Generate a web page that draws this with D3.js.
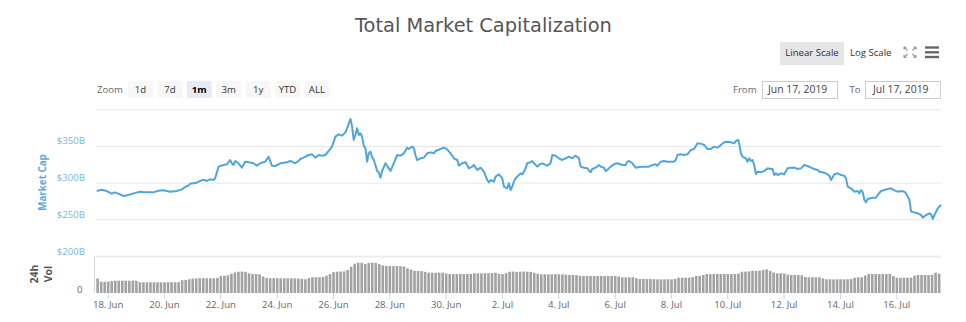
<!DOCTYPE html>
<html><head><meta charset="utf-8">
<script src="https://cdn.jsdelivr.net/npm/d3@7"></script>
<style>html,body{margin:0;padding:0;background:#fff;}svg{display:block;font-family:"Open Sans",sans-serif;}</style>
</head><body><svg id="c" width="966" height="322"></svg>
<script>
// ---------- data ----------
const title = "Total Market Capitalization";
const zoomButtons = ["1d","7d","1m","3m","1y","YTD","ALL"];
const selectedZoom = "1m";
const scaleButtons = ["Linear Scale","Log Scale"];
const fromText = "Jun 17, 2019";
const toText = "Jul 17, 2019";
const capTickValues = [200,250,300,350];
const gridTickValues = [200,250,300,350,400];
const capAxisTitle = "Market Cap";
const volAxisTitle = ["24h","Vol"];
const baseDate = Date.UTC(2019,5,18);           // 18 Jun 2019 00:00 UTC
const viewFromHour = -9.9, viewToHour = 710.1;  // visible range, hours from baseDate
// market cap, hours from baseDate / value in $B
const capHours = [-9.3,-5.1,-0.8,3.5,6.3,10.6,13.4,17.7,22.0,27.6,31.9,39.0,43.3,47.6,53.2,58.9,63.2,66.0,68.9,70.3,76.0,78.8,81.7,84.5,87.4,90.2,91.6,94.5,98.7,101.6,104.4,105.8,107.3,108.7,111.5,114.4,117.2,120.1,124.3,127.2,130.0,134.3,137.1,140.0,142.8,147.1,152.8,155.6,158.5,159.9,162.7,
164.2,167.0,171.3,174.2,177.0,179.8,182.7,185.5,188.4,191.2,194.1,196.9,199.8,202.6,204.0,206.9,208.3,209.7,211.1,212.5,214.0,215.4,216.8,218.2,219.7,221.1,222.5,223.9,225.3,226.8,228.2,229.6,231.0,232.5,233.9,236.7,239.6,241.0,243.8,246.7,249.5,252.4,255.2,256.6,259.5,260.9,262.3,263.7,266.6,269.4,272.3,275.1,278.0,279.4,283.6,286.5,289.3,292.2,295.0,297.9,299.3,302.1,305.0,307.8,310.7,312.1,314.9,317.8,320.6,323.5,324.9,326.3,329.1,330.6,333.4,336.3,337.7,340.5,341.9,343.4,
344.7,346.1,347.6,349.0,351.8,353.3,354.7,356.1,357.5,360.4,361.8,363.2,366.1,367.5,370.3,373.2,374.6,377.4,378.9,381.7,384.5,387.4,390.2,393.1,395.9,398.8,401.6,403.0,405.9,408.7,411.6,413.0,415.8,418.7,420.1,422.9,424.4,425.8,428.6,431.5,434.3,438.6,441.4,442.8,444.3,447.1,450.0,452.8,457.1,461.3,464.2,467.0,468.4,471.3,474.1,477.0,482.7,484.1,485.5,488.3,491.2,494.0,496.9,499.7,502.6,505.4,508.3,511.1,513.9,516.8,519.6,
522.5,525.3,528.2,531.0,533.9,535.3,537.3,538.1,539.6,541.0,543.8,545.3,546.7,548.1,549.5,550.9,552.4,553.8,556.6,559.5,562.3,565.2,566.6,568.0,569.4,570.9,573.7,576.5,579.4,582.2,585.1,587.9,590.8,593.6,596.4,599.3,602.1,605.0,606.4,609.2,612.1,614.9,616.4,619.2,622.0,624.9,627.7,629.2,630.6,633.4,636.3,639.1,640.5,642.0,643.4,644.8,646.2,647.6,651.9,654.7,656.2,659.0,661.9,664.7,667.5,670.4,673.2,676.1,678.9,680.3,681.8,683.2,684.6,687.4,690.3,693.1,694.6,697.4,700.3,701.7,703.1,704.5,707.4,710.2];
const capValues = [288.6,290.4,288.6,285.0,286.8,284.1,281.8,283.2,285.4,287.7,286.8,286.8,289.1,289.5,287.7,288.6,290.9,294.1,295.9,298.6,300.0,302.3,304.1,302.3,304.5,303.6,305.9,321.8,324.1,325.0,330.9,326.4,324.1,329.5,326.4,320.4,328.6,327.7,326.4,323.2,326.4,328.6,335.4,323.2,322.7,326.4,327.7,329.5,327.7,326.4,329.5,
332.3,334.1,337.7,338.6,334.1,337.7,336.8,337.7,343.2,349.1,362.7,365.9,364.1,368.6,374.1,386.8,376.4,358.2,365.0,374.1,365.0,367.3,362.7,350.4,346.8,328.6,340.0,342.3,335.4,330.9,324.1,315.9,314.1,306.8,315.9,326.4,319.5,315.9,326.4,337.7,336.8,340.0,347.7,345.9,349.1,346.8,337.7,330.9,333.2,334.1,340.0,341.3,340.0,343.2,345.9,347.7,345.4,340.0,333.2,330.9,323.2,326.4,327.7,319.5,321.8,324.1,317.3,320.4,315.0,303.6,300.4,303.6,301.4,308.2,311.4,305.9,294.5,292.3,299.1,290.0,
294.5,301.4,305.9,308.2,312.7,311.4,315.0,319.5,326.4,327.7,329.5,326.4,321.8,324.1,326.4,324.1,323.2,326.4,337.7,336.8,333.2,330.9,333.2,335.4,333.2,336.8,333.2,321.8,320.4,319.5,314.1,318.6,320.4,324.1,321.8,320.4,315.9,317.3,321.8,325.0,326.4,324.1,324.1,328.6,329.5,326.4,320.4,321.3,321.8,321.8,324.1,325.0,323.2,328.6,329.5,328.6,328.6,330.9,337.7,338.6,337.7,338.6,344.5,345.9,353.6,353.2,351.4,345.9,345.9,349.1,347.7,
351.4,355.0,355.9,355.0,353.6,356.8,358.2,353.6,340.0,335.4,333.2,328.6,333.2,329.5,330.9,324.1,311.4,315.0,314.1,315.9,319.5,318.6,318.6,310.4,312.7,310.4,312.7,311.4,319.5,320.4,320.4,318.6,319.5,324.1,322.7,320.4,318.6,317.3,315.0,314.1,312.7,309.5,303.6,311.4,312.7,310.4,309.5,305.9,294.5,292.3,287.7,288.6,285.4,290.0,286.8,276.4,273.2,277.7,279.5,279.5,283.2,288.6,290.0,291.4,292.3,289.5,287.7,288.6,287.7,285.4,280.9,276.4,260.5,259.5,258.2,255.9,252.3,255.9,258.2,256.8,250.5,255.9,265.0,269.5];
// 24h volume ($B), one bar every 3 hours starting at volStartHour
const volStartHour = -8.5, volStepHours = 3;
const volume = [47.5,36.5,36.5,36.8,38.5,39.8,40.0,39.9,40.1,39.8,40.2,39.5,
35.2,34.8,34.5,34.7,34.9,34.6,34.5,34.8,35.0,34.7,34.9,35.3,
41.5,42.2,44.5,46.8,47.5,47.9,48.2,47.8,48.0,47.6,49.0,54.8,
56.0,57.2,62.5,66.8,69.1,69.5,68.6,64.0,61.6,61.4,60.8,53.5,
48.6,47.7,47.7,47.9,47.5,47.8,47.6,47.7,47.4,47.0,45.5,44.4,
48.5,50.9,51.2,51.0,51.5,56.0,61.5,67.5,69.1,69.5,70.2,74.5,
85.3,95.0,98.3,97.8,94.1,97.5,98.3,98.0,93.5,89.5,88.0,87.6,
87.2,87.6,87.0,86.0,80.1,76.0,72.0,71.4,71.0,68.5,65.8,66.0,
65.6,65.8,66.2,63.5,61.6,61.4,61.8,61.6,61.3,61.7,62.0,63.9,
64.2,63.8,64.0,63.9,64.5,65.8,62.5,61.6,64.5,69.1,69.4,68.8,
69.1,69.6,69.0,68.5,65.8,62.5,60.6,60.8,60.4,60.6,60.9,60.5,
60.6,59.5,58.4,58.6,58.0,56.0,55.1,55.3,55.1,55.4,55.0,55.2,
55.1,54.8,55.0,55.1,53.5,51.0,50.9,50.6,50.9,48.0,45.4,45.6,
45.2,45.4,44.8,44.4,44.2,44.5,44.4,44.1,45.5,49.6,49.8,49.5,
49.6,51.5,55.1,55.5,58.5,61.6,61.4,61.8,61.6,61.5,61.9,61.6,
61.2,61.6,63.0,69.1,69.4,70.0,72.3,72.0,72.6,75.0,76.9,72.0,
66.5,63.9,64.2,63.5,59.5,58.4,58.6,58.2,57.5,52.0,50.9,51.2,
50.8,50.9,47.5,44.4,44.6,44.2,44.4,44.5,44.3,44.4,45.0,49.5,
50.9,51.2,56.5,61.6,61.8,61.4,61.6,61.9,61.5,61.6,55.0,49.6,
49.4,49.8,49.6,50.0,56.0,58.4,58.6,58.2,58.6,59.5,65.8,62.5];
const volMax = 120;

// ---------- drawing ----------
const H = 36e5;
const svg = d3.select("#c");
const L = 96, R = 941, pTop = 109.3, pBot = 256, vBot = 293;

const x = d3.scaleUtc().domain([new Date(baseDate + viewFromHour*H), new Date(baseDate + viewToHour*H)]).range([L, R]);
const y = d3.scaleLinear().domain([200, 400]).range([pBot, pTop]);
const yv = d3.scaleLinear().domain([0, volMax]).range([vBot, pBot]);

// title
svg.append("text").attr("x", 483.5).attr("y", 31.5).attr("text-anchor", "middle")
  .style("font-family", "'DejaVu Sans',sans-serif").style("font-size", "19.4px").attr("fill", "#555").text(title);

// range selector
const fs = "9.6px";
svg.append("text").attr("x", 97).attr("y", 92.6).attr("fill", "#666").style("font-size", fs).text("Zoom");
zoomButtons.forEach((b, i) => {
  const bx = 128 + i * 29.4;
  const sel = b === selectedZoom;
  svg.append("rect").attr("x", bx).attr("y", 81).attr("width", 25).attr("height", 17).attr("rx", 1.5)
    .attr("fill", sel ? "#e6ebf5" : "#f7f7f7");
  svg.append("text").attr("x", bx + 12.5).attr("y", 92.6).attr("text-anchor", "middle")
    .attr("fill", sel ? "#000" : "#333").style("font-size", fs).style("font-weight", sel ? "700" : "400").text(b);
});

// scale buttons
svg.append("rect").attr("x", 780).attr("y", 42).attr("width", 64).attr("height", 23).attr("fill", "#e6e6e6");
svg.append("text").attr("x", 812).attr("y", 56).attr("text-anchor", "middle").attr("fill", "#333").style("font-size", fs).text(scaleButtons[0]);
svg.append("text").attr("x", 850).attr("y", 56).attr("fill", "#333").style("font-size", fs).text(scaleButtons[1]);
// fullscreen icon
const fsIcon = svg.append("g").attr("stroke", "#999").attr("stroke-width", 1.2).attr("fill", "none");
[[904,47,1,1],[916,47,-1,1],[904,57.5,1,-1],[916,57.5,-1,-1]].forEach(([cx, cy, dx, dy]) => {
  fsIcon.append("path").attr("d", `M${cx},${cy}L${cx+dx*3.5},${cy+dy*3.5}M${cx},${cy}L${cx+dx*2.5},${cy}M${cx},${cy}L${cx},${cy+dy*2.5}`);
});
// menu icon
[47.5, 52.3, 57].forEach(yy => svg.append("line").attr("x1", 925).attr("x2", 939).attr("y1", yy).attr("y2", yy)
  .attr("stroke", "#666").attr("stroke-width", 2.4));

// from / to
svg.append("text").attr("x", 733).attr("y", 92.6).attr("fill", "#666").style("font-size", fs).text("From");
svg.append("rect").attr("x", 762.5).attr("y", 81.5).attr("width", 75).attr("height", 17).attr("fill", "#fff").attr("stroke", "#ccc");
svg.append("text").attr("x", 768).attr("y", 93).attr("fill", "#444").style("font-size", "10.4px").text(fromText);
svg.append("text").attr("x", 849.5).attr("y", 92.6).attr("fill", "#666").style("font-size", fs).text("To");
svg.append("rect").attr("x", 865.5).attr("y", 81.5).attr("width", 75).attr("height", 17).attr("fill", "#fff").attr("stroke", "#ccc");
svg.append("text").attr("x", 873).attr("y", 93).attr("fill", "#444").style("font-size", "10.4px").text(toText);

// grid
const grid = svg.append("g").attr("transform", `translate(${L},0)`)
  .call(d3.axisLeft(y).tickValues(gridTickValues).tickSize(-(R - L)).tickFormat(""));
grid.select(".domain").remove();
grid.selectAll(".tick line").attr("stroke", "#e6e6e6").attr("stroke-width", 1);
grid.selectAll(".tick").filter(d => d === 200).select("line").attr("stroke-width", 2).attr("stroke", "#ececec");

// y labels
const yl = svg.append("g").attr("transform", `translate(85,0)`)
  .call(d3.axisLeft(y).tickValues(capTickValues).tickSize(0).tickPadding(0).tickFormat(d => "$" + d + "B"));
yl.select(".domain").remove();
yl.selectAll("text").attr("fill", "#7ab6e0").style("font-size", fs).style("font-family", "'Open Sans',sans-serif")
  .attr("dy", null).attr("y", -2);

svg.append("text").attr("transform", "translate(46,182.5) rotate(-90)").attr("text-anchor", "middle")
  .attr("fill", "#5aaae0").style("font-size", "9.8px").style("font-weight", "700").text(capAxisTitle);

// volume pane
svg.append("line").attr("x1", 94.5).attr("x2", 94.5).attr("y1", pBot).attr("y2", vBot).attr("stroke", "#d8d8d8");
const bars = volume.map((v, i) => ({ t: new Date(baseDate + (volStartHour + i * volStepHours) * H), v }));
svg.append("g").selectAll("rect").data(bars).join("rect")
  .attr("x", d => x(d.t) - 1.3).attr("width", 2.6)
  .attr("y", d => yv(d.v)).attr("height", d => vBot - yv(d.v))
  .attr("fill", "#a2a2a2");
svg.append("text").attr("x", 82.5).attr("y", 292.5).attr("text-anchor", "end").attr("fill", "#666").style("font-size", fs).text("0");
const vt = svg.append("text").attr("transform", "translate(0,274) rotate(-90)").attr("text-anchor", "middle")
  .attr("fill", "#555").style("font-size", "10.5px").style("font-weight", "700");
vt.append("tspan").attr("x", 0).attr("y", 38).text(volAxisTitle[0]);
vt.append("tspan").attr("x", 0).attr("y", 51.5).text(volAxisTitle[1]);

// x axis
const xTicks = d3.utcDays(new Date(baseDate), new Date(baseDate + viewToHour * H), 2);
const xa = svg.append("g").attr("transform", `translate(0,${vBot})`)
  .call(d3.axisBottom(x).tickValues(xTicks).tickSize(6).tickPadding(2).tickFormat(d3.utcFormat("%-d. %b")));
xa.select(".domain").remove();
xa.selectAll(".tick line").attr("stroke", "#ccd6eb");
xa.selectAll("text").attr("fill", "#666").style("font-size", fs).style("font-family", "'Open Sans',sans-serif");

// market cap line
const capData = capHours.map((h, i) => ({ t: new Date(baseDate + h * H), v: capValues[i] }));
svg.append("path").datum(capData)
  .attr("fill", "none").attr("stroke", "#51a5dc").attr("stroke-width", 2).attr("stroke-linejoin", "round")
  .attr("d", d3.line().x(d => x(d.t)).y(d => y(d.v)));
</script></body></html>
